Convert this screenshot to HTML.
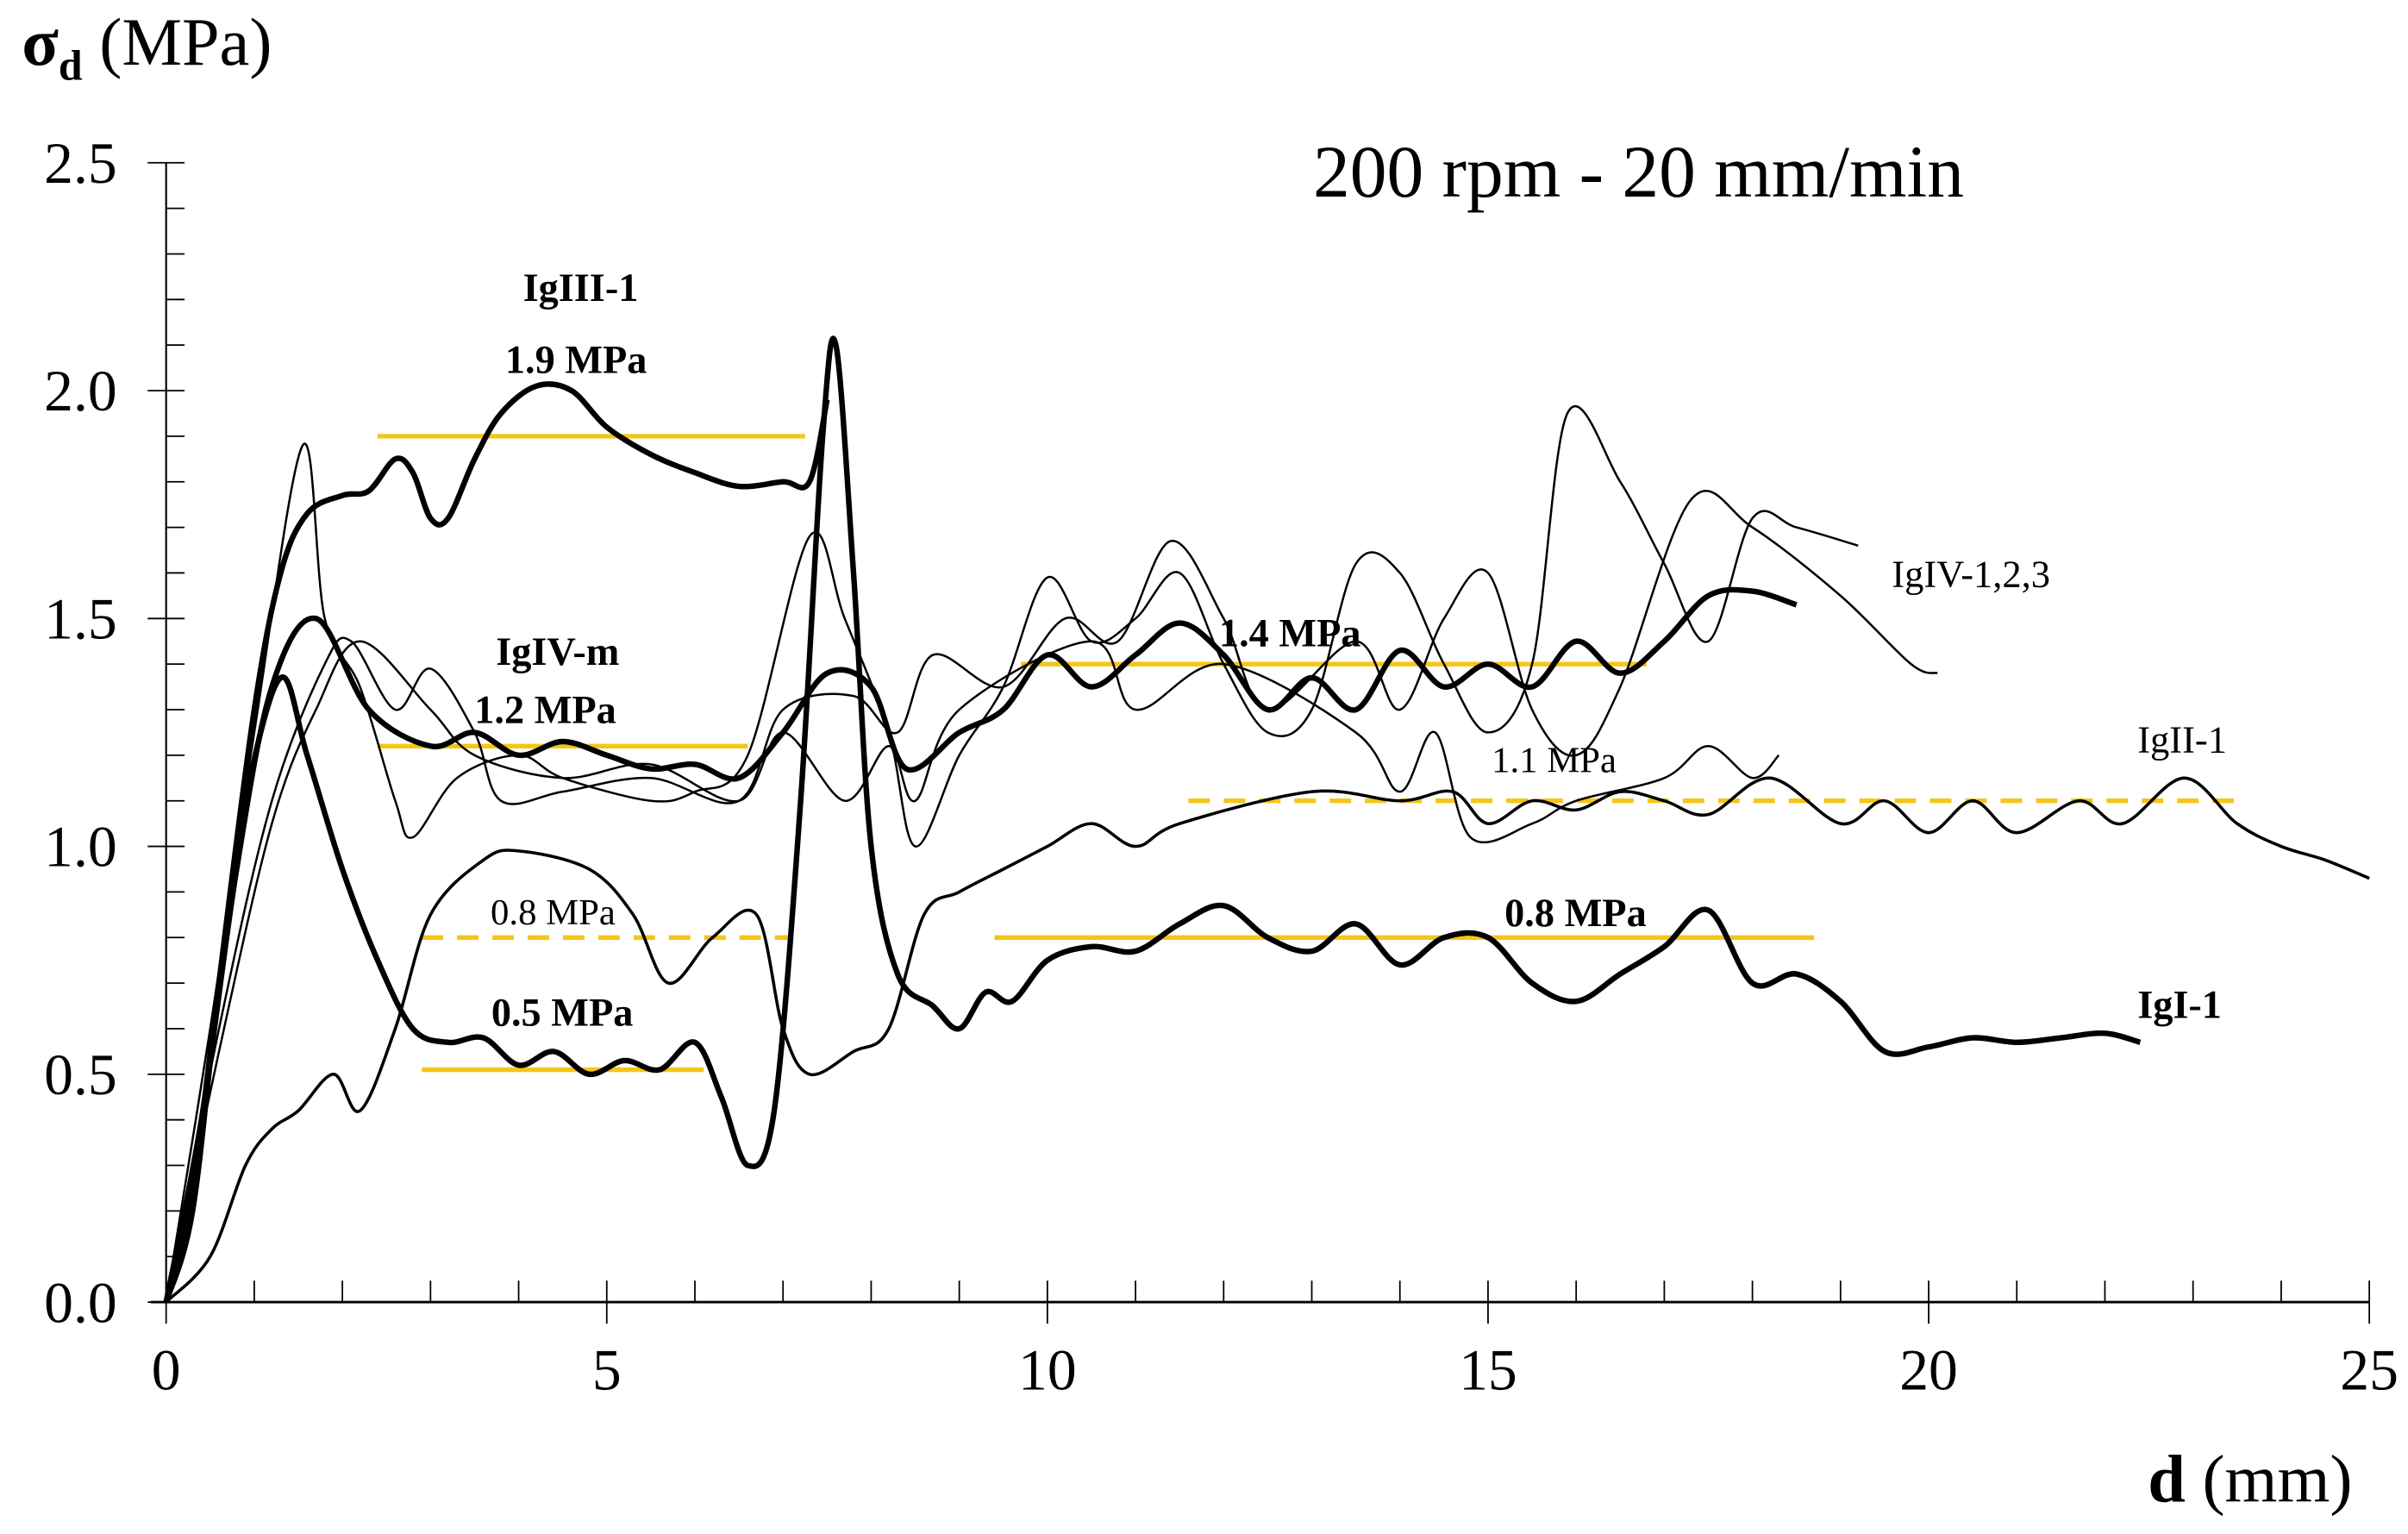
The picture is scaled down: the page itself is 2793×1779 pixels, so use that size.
<!DOCTYPE html>
<html><head><meta charset="utf-8"><style>
html,body{margin:0;padding:0;background:#fff;}
svg{display:block;font-family:"Liberation Serif",serif;}
</style></head><body>
<svg id="chart" width="2793" height="1779" viewBox="0 0 1568 999" xmlns="http://www.w3.org/2000/svg">
<g id="axes"></g>
<g id="avg"></g>
<g id="series"></g>
<g id="labels">
<text x="14" y="42" font-size="44"><tspan font-weight="bold">σ</tspan><tspan font-weight="bold" font-size="28" dy="10">d</tspan><tspan dy="-10"> (MPa)</tspan></text>
<text x="1532" y="978" font-size="44" text-anchor="end"><tspan font-weight="bold">d</tspan> (mm)</text>
<text x="1067" y="128" font-size="48" text-anchor="middle">200 rpm - 20 mm/min</text>
<text x="378" y="196" font-size="26" font-weight="bold" text-anchor="middle">IgIII-1</text>
<text x="375" y="243" font-size="26" font-weight="bold" text-anchor="middle">1.9 MPa</text>
<text x="363" y="433" font-size="26" font-weight="bold" text-anchor="middle">IgIV-m</text>
<text x="355" y="471" font-size="26" font-weight="bold" text-anchor="middle">1.2 MPa</text>
<text x="360" y="602" font-size="24" text-anchor="middle">0.8 MPa</text>
<text x="366" y="668" font-size="26" font-weight="bold" text-anchor="middle">0.5 MPa</text>
<text x="840" y="421" font-size="26" font-weight="bold" text-anchor="middle">1.4 MPa</text>
<text x="1012" y="503" font-size="24" text-anchor="middle">1.1 MPa</text>
<text x="1026" y="603" font-size="26" font-weight="bold" text-anchor="middle">0.8 MPa</text>
<text x="1232" y="382" font-size="25">IgIV-1,2,3</text>
<text x="1392" y="490" font-size="25">IgII-1</text>
<text x="1392" y="663" font-size="26" font-weight="bold">IgI-1</text>
</g>
</svg>
<script>
const xTicks=[0,5,10,15,20,25];
const yTicks=[0.0,0.5,1.0,1.5,2.0,2.5];
const igI1_x=[0,0.3,0.6,0.9,1.3,1.6,2,2.4,2.8,3.2,3.6,4,4.4,4.8,5.2,5.6,6,6.3,6.6,6.9,7.2,7.45,7.6,7.8,8.0,8.3,8.7,9,9.3,9.6,10,10.5,11,11.5,12,12.5,13,13.5,14,14.5,15,15.5,16,16.5,17,17.5,18,18.5,19,19.5,20,20.5,21,21.5,22,22.4];
const igI1_y=[0,0.25,0.7,1.1,1.37,1.2,0.95,0.75,0.6,0.57,0.58,0.52,0.55,0.5,0.53,0.51,0.57,0.45,0.3,0.42,1.1,1.9,2.1,1.6,1.0,0.72,0.65,0.6,0.68,0.66,0.75,0.78,0.77,0.83,0.87,0.8,0.77,0.83,0.74,0.8,0.8,0.7,0.66,0.72,0.78,0.86,0.7,0.72,0.66,0.55,0.56,0.58,0.57,0.58,0.59,0.57];
const igIII1_x=[0,0.3,0.6,1,1.3,1.6,2,2.3,2.6,2.8,3,3.2,3.5,3.8,4.2,4.6,5,5.5,6,6.5,7,7.3,7.5];
const igIII1_y=[0,0.2,0.7,1.3,1.6,1.73,1.77,1.78,1.85,1.82,1.72,1.72,1.85,1.95,2.01,2.0,1.92,1.86,1.82,1.79,1.8,1.8,1.98];
const igIVm_x=[0,0.4,0.8,1.2,1.7,2.3,3,3.5,4,4.5,5,5.5,6,6.5,7,7.5,8,8.4,9,9.5,10,10.5,11,11.5,12,12.5,13,13.5,14,14.5,15,15.5,16,16.5,17,17.5,18,18.5];
const igIVm_y=[0,0.4,0.95,1.35,1.5,1.3,1.22,1.25,1.2,1.23,1.2,1.17,1.18,1.15,1.25,1.38,1.35,1.17,1.25,1.3,1.42,1.35,1.42,1.49,1.42,1.3,1.37,1.3,1.43,1.35,1.4,1.35,1.45,1.38,1.45,1.55,1.56,1.53];
const igII1_x=[0,0.5,0.9,1.2,1.5,1.9,2.2,2.6,3,3.6,4,4.8,5.3,5.7,6.2,6.7,7,7.3,7.8,8.2,8.6,9,9.5,10,10.5,11,11.5,13,14,14.6,15,15.5,16,16.5,17,17.5,18.2,19,19.5,20,20.5,21,21.7,22.2,22.9,23.5,24,24.5,25];
const igII1_y=[0,0.1,0.3,0.38,0.42,0.5,0.42,0.6,0.85,0.97,0.99,0.95,0.85,0.7,0.8,0.85,0.6,0.5,0.55,0.6,0.85,0.9,0.95,1.0,1.05,1.0,1.05,1.12,1.1,1.12,1.05,1.1,1.08,1.12,1.1,1.07,1.15,1.05,1.1,1.03,1.1,1.03,1.1,1.05,1.15,1.05,1.0,0.97,0.93];
const igIVa_x=[0,0.5,1,1.55,1.8,2.2,2.6,2.8,3.3,4,4.5,5.5,6,6.6,7.3,7.7,8.2,8.5,9,9.5,10,10.5,11,11.5,12,12.5,13,13.5,14,14.5,15,15.5,15.9,16.5,17,17.5,18,18.5,19.2];
const igIVa_y=[0,0.6,1.25,1.88,1.5,1.35,1.1,1.02,1.15,1.2,1.15,1.1,1.12,1.2,1.68,1.5,1.25,1.0,1.2,1.35,1.59,1.45,1.5,1.6,1.4,1.25,1.3,1.62,1.6,1.4,1.25,1.4,1.95,1.8,1.62,1.45,1.72,1.7,1.66];
const igIVb_x=[0,0.6,1.2,1.8,2.1,2.6,3,3.5,3.8,4.5,5.5,6.5,7,7.8,8.3,8.7,9.5,10.2,10.8,11.4,12,12.5,13.5,14,14.5,15,15.5,16,16.5,17.3,18,19,19.8,20.1];
const igIVb_y=[0,0.6,1.1,1.4,1.45,1.3,1.39,1.25,1.1,1.12,1.15,1.1,1.3,1.33,1.25,1.42,1.35,1.5,1.45,1.67,1.5,1.3,1.45,1.3,1.5,1.6,1.3,1.2,1.35,1.76,1.7,1.55,1.4,1.38];
const igIVc_x=[0,0.6,1.2,1.7,2.2,3,3.5,4.5,5.5,6.5,7,7.7,8.2,8.5,9,10.5,11,12,13.5,14,14.4,14.8,15.5,16,17,17.5,18,18.3];
const igIVc_y=[0,0.55,1.05,1.3,1.45,1.3,1.2,1.15,1.18,1.1,1.25,1.1,1.22,1.1,1.3,1.45,1.3,1.4,1.25,1.12,1.25,1.02,1.05,1.1,1.15,1.22,1.15,1.2];
const avgStart=[2.4,2.4,9.7,11.6,2.9,2.9,9.4];
const avgEnd=[7.25,6.6,16.8,23.6,7.1,6.1,18.7];
const avgVal=[1.9,1.22,1.4,1.1,0.8,0.51,0.8];
const avgDashed=[false,false,false,true,true,false,false];

const NS='http://www.w3.org/2000/svg';
const X=v=>108+v*(1543-108)/25;
const Y=v=>848-v*(848-106)/2.5;
function mk(tag,attrs,parent){const e=document.createElementNS(NS,tag);for(const k in attrs)e.setAttribute(k,attrs[k]);parent.appendChild(e);return e;}
const axes=document.getElementById('axes');
let l=mk('line',{x1:X(0)-10,y1:Y(0),x2:X(25),y2:Y(0),stroke:'#000','stroke-width':1.6},axes);


l=mk('line',{x1:X(0),y1:Y(0),x2:X(0),y2:Y(2.5),stroke:'#000','stroke-width':1.2},axes);


for(let i=0;i<=25;i++){const v=i;const major=i%5==0;
 const t=mk('line',{x1:X(v),x2:X(v),y1:major?Y(0)+14:Y(0),y2:Y(0)-14,stroke:'#000','stroke-width':1},axes);
 
 }
for(let i=0;i<=25;i++){const v=i*0.1;const major=i%5==0;
 const t=mk('line',{x1:major?X(0)-12:X(0),x2:X(0)+12,y1:Y(v),y2:Y(v),stroke:'#000','stroke-width':1},axes);
 
 }
xTicks.forEach(v=>{const t=mk('text',{x:X(v),y:Y(0)+57,'font-size':38,'text-anchor':'middle'},axes);t.textContent=v;
 
 });
yTicks.forEach(v=>{const t=mk('text',{x:X(0)-32,y:Y(v)+13,'font-size':38,'text-anchor':'end'},axes);t.textContent=v.toFixed(1);
 
 });
const avg=document.getElementById('avg');
avgVal.forEach((v,i)=>{const a={x1:X(avgStart[i]),x2:X(avgEnd[i]),y1:Y(v),y2:Y(v),stroke:'#f5c518','stroke-width':3};
 if(avgDashed[i])a['stroke-dasharray']='14 9';
 const e=mk('line',a,avg);
 
 });
function path(xs,ys){const p=xs.map((x,i)=>[X(x),Y(ys[i])]);let d='M'+p[0][0]+','+p[0][1];
 for(let i=0;i<p.length-1;i++){const p0=p[i-1]||p[i],p1=p[i],p2=p[i+1],p3=p[i+2]||p2;
  const c1=[p1[0]+(p2[0]-p0[0])/6,p1[1]+(p2[1]-p0[1])/6],c2=[p2[0]-(p3[0]-p1[0])/6,p2[1]-(p3[1]-p1[1])/6];
  d+=`C${c1[0]},${c1[1]} ${c2[0]},${c2[1]} ${p2[0]},${p2[1]}`;}return d;}
const ser=document.getElementById('series');
[[igIVa_x,igIVa_y,1.4,'line-igiv-1'],[igIVb_x,igIVb_y,1.4,'line-igiv-2'],[igIVc_x,igIVc_y,1.4,'line-igiv-3'],
 [igII1_x,igII1_y,2,'line-igii-1'],[igIVm_x,igIVm_y,3.6,'line-igiv-m'],[igIII1_x,igIII1_y,3.6,'line-igiii-1'],[igI1_x,igI1_y,3.6,'line-igi-1']].forEach(s=>{
 const e=mk('path',{d:path(s[0],s[1]),fill:'none',stroke:'#000','stroke-width':s[2],'stroke-linejoin':'round'},ser);
 
 });
</script>
</body></html>
